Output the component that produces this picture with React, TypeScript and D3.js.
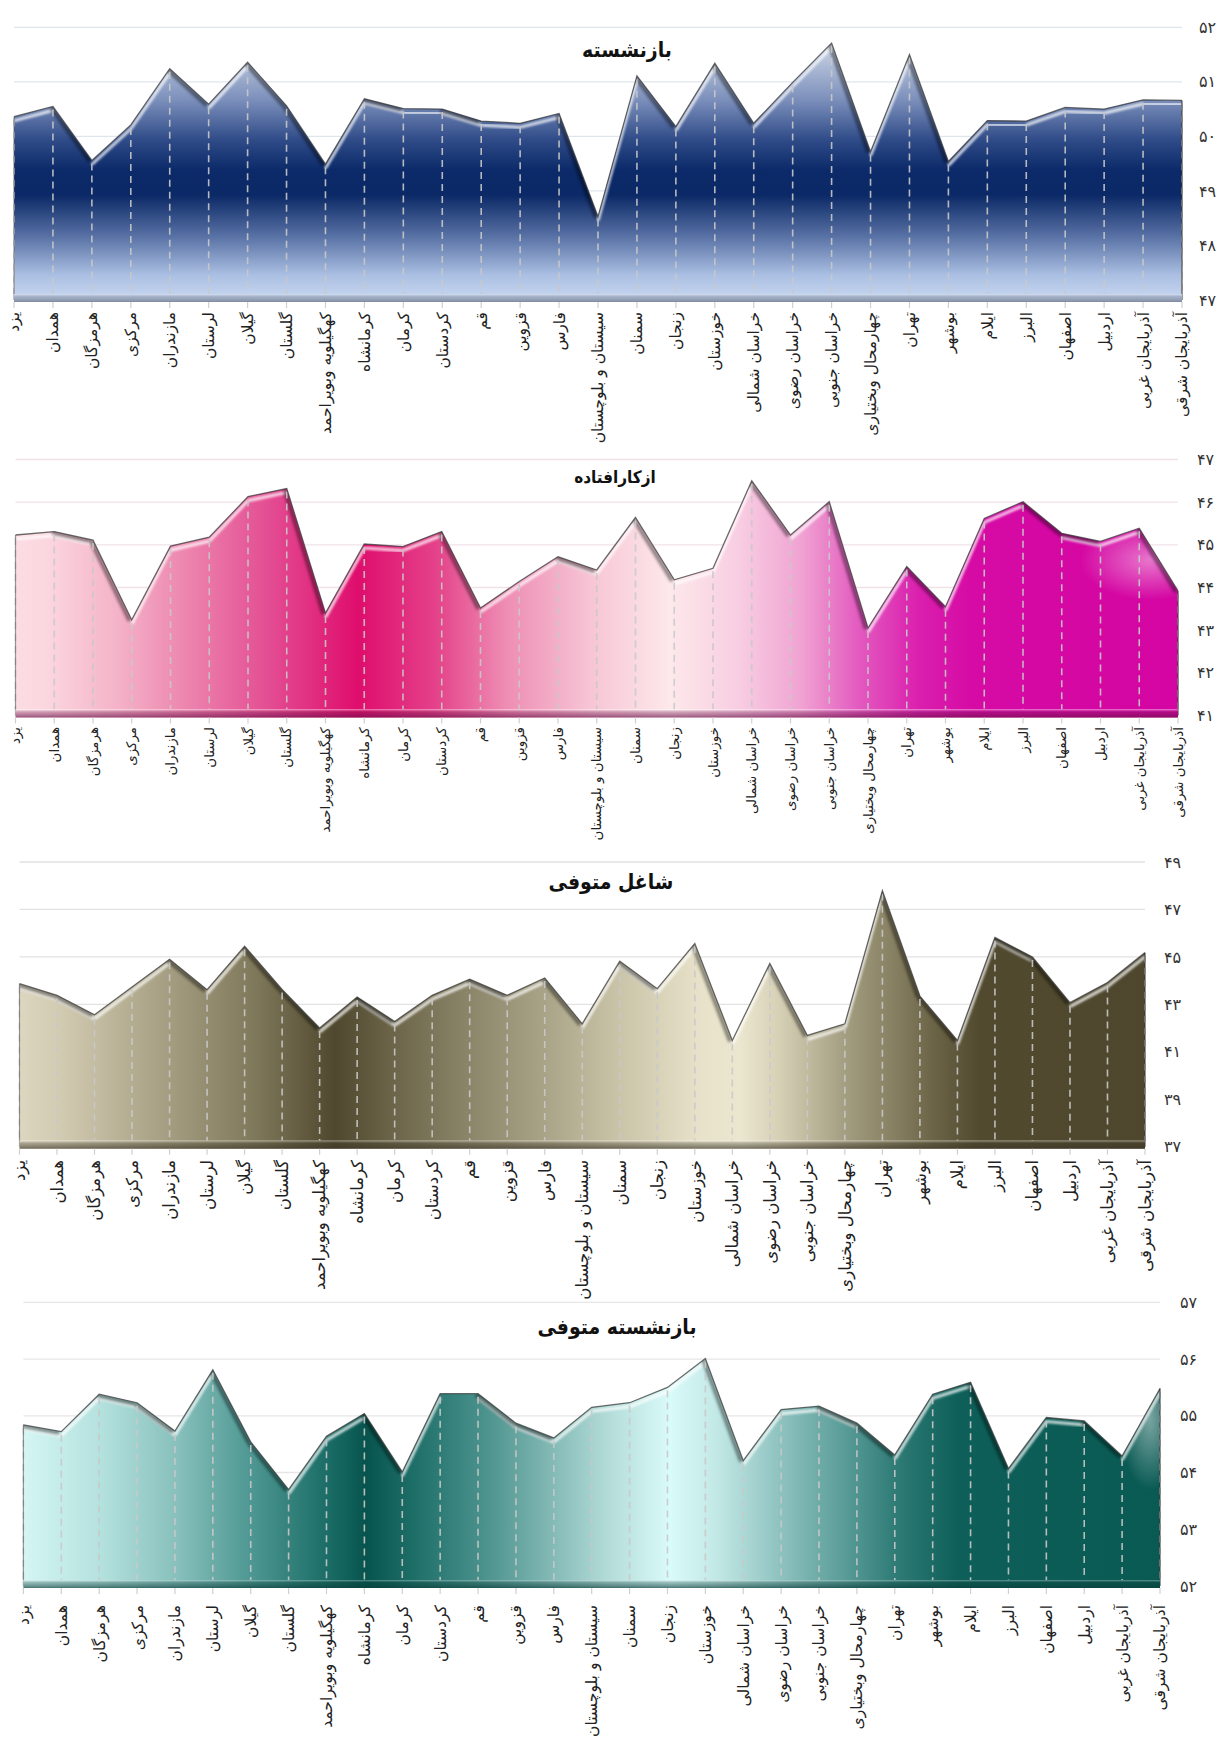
import React from 'react';
import * as d3 from 'd3';

const categories = [
  'یزد', 'همدان', 'هرمزگان', 'مرکزی', 'مازندران', 'لرستان', 'گیلان', 'گلستان',
  'کهگیلویه وبویراحمد', 'کرمانشاه', 'کرمان', 'کردستان', 'قم', 'قزوین', 'فارس',
  'سیستان و بلوچستان', 'سمنان', 'زنجان', 'خوزستان', 'خراسان شمالی', 'خراسان رضوی',
  'خراسان جنوبی', 'چهارمحال وبختیاری', 'تهران', 'بوشهر', 'ایلام', 'البرز', 'اصفهان',
  'اردبیل', 'آذربایجان غربی', 'آذربایجان شرقی',
];

const retiredValues = [
  50.36, 50.55, 49.56, 50.21, 51.24, 50.59, 51.36, 50.56, 49.49, 50.69, 50.51,
  50.5, 50.28, 50.24, 50.42, 48.53, 51.11, 50.18, 51.34, 50.24, 50.99, 51.71,
  49.72, 51.5, 49.54, 50.29, 50.28, 50.53, 50.5, 50.67, 50.66,
];
const disabledValues = [
  45.23, 45.31, 45.11, 43.24, 44.97, 45.18, 46.13, 46.32, 43.4, 45.02, 44.96,
  45.31, 43.52, 44.14, 44.72, 44.41, 45.64, 44.18, 44.45, 46.5, 45.23, 46.01,
  43.05, 44.49, 43.55, 45.62, 46.01, 45.27, 45.08, 45.39, 43.92,
];
const deceasedEmployedValues = [
  43.87, 43.38, 42.56, 43.73, 44.9, 43.62, 45.45, 43.63, 42.0, 43.31, 42.28,
  43.38, 44.06, 43.38, 44.11, 42.18, 44.82, 43.66, 45.56, 41.48, 44.72, 41.69,
  42.18, 47.79, 43.35, 41.48, 45.82, 45.0, 43.07, 43.92, 45.18,
];
const deceasedRetiredValues = [
  54.84, 54.72, 55.38, 55.23, 54.73, 55.81, 54.54, 53.7, 54.64, 55.04, 54.01,
  55.39, 55.39, 54.87, 54.61, 55.15, 55.23, 55.5, 56.01, 54.21, 55.11, 55.17,
  54.87, 54.31, 55.38, 55.59, 54.07, 54.97, 54.91, 54.29, 55.48,
];

const retiredTicks = [47, 48, 49, 50, 51, 52];
const disabledTicks = [41, 42, 43, 44, 45, 46, 47];
const deceasedEmployedTicks = [37, 39, 41, 43, 45, 47, 49];
const deceasedRetiredTicks = [52, 53, 54, 55, 56, 57];

const titles = ['بازنشسته', 'ازکارافتاده', 'شاغل متوفی', 'بازنشسته متوفی'];

const FONT = '"DejaVu Sans", "Noto Sans", sans-serif';
const TITLE_FONT = '"DejaVu Sans Condensed", "DejaVu Sans", sans-serif';

const toFa = (n: number) => String(n).replace(/\d/g, (d) => '۰۱۲۳۴۵۶۷۸۹'[+d]);

type Stop = [number, string];
type Cfg = {
  id: string;
  values: number[];
  ticks: number[];
  title: string;
  x0: number; x1: number; yTop: number; yBot: number;
  labelX: number; labelTop: number; labelSize: number;
  titleX: number; titleY: number; titleSize: number;
  grid: string;
  vertical: boolean;
  stops: Stop[];
  floorDark: string;
  glow?: [number, number, number, number];
};

const retiredStops: Stop[] = [
  [27, '#e6ebf5'], [60, '#b6c2da'], [100, '#7b8fbb'], [140, '#2f4b88'], [170, '#0c2a69'],
  [195, '#0b2966'], [235, '#566fa3'], [275, '#aabfe2'], [300, '#c9d8f1'],
];
const disabledStops: Stop[] = [
  [15, '#fcdde3'], [47, '#fbd6df'], [117, '#f4b3c8'], [195, '#ec7fab'], [273, '#e34a91'],
  [358, '#df0d6d'], [436, '#e4428a'], [506, '#ee8db3'], [592, '#f7c6d6'], [670, '#fde8ea'],
  [740, '#f8cde2'], [802, '#f0a2d2'], [857, '#e35cc0'], [919, '#da1fae'], [973, '#d60aa4'],
  [1178, '#d405a2'],
];
const deceasedEmployedStops: Stop[] = [
  [19, '#ddd6c0'], [60, '#d2cbb2'], [160, '#a8a185'], [257, '#7f7759'], [335, '#4f482e'],
  [389, '#6a6347'], [467, '#8a8468'], [545, '#a9a387'], [623, '#cbc5aa'], [701, '#e7e2c9'],
  [740, '#ebe6cf'], [779, '#d6d0b6'], [841, '#a6a084'], [896, '#857e60'], [935, '#6a6346'],
  [980, '#524a2f'], [1145, '#4e472d'],
];
const deceasedRetiredStops: Stop[] = [
  [23, '#d4f6f4'], [101, '#b4e1de'], [179, '#86bfbb'], [249, '#4f9893'], [327, '#1c6d67'],
  [366, '#07544e'], [413, '#1e6e68'], [483, '#4a918c'], [545, '#7db5b1'], [607, '#b2dbd8'],
  [670, '#d9fbf9'], [717, '#c2e8e5'], [779, '#8fc3c0'], [841, '#5c9e9a'], [896, '#2f7b76'],
  [958, '#0e5f59'], [1160, '#0a5a54'],
];

const configs: Cfg[] = [
  {
    id: 'c1', values: retiredValues, ticks: retiredTicks, title: titles[0],
    x0: 14, x1: 1182, yTop: 27.3, yBot: 300,
    labelX: 1199, labelTop: 312, labelSize: 15.5,
    titleX: 627, titleY: 57, titleSize: 21,
    grid: '#dfe5ef', vertical: true, stops: retiredStops, floorDark: '#5d6678',
  },
  {
    id: 'c2', values: disabledValues, ticks: disabledTicks, title: titles[1],
    x0: 15.5, x1: 1178, yTop: 459.5, yBot: 715.5,
    labelX: 1197, labelTop: 727, labelSize: 13.4,
    titleX: 615, titleY: 483, titleSize: 17,
    grid: '#f1e2e9', vertical: false, stops: disabledStops, floorDark: '#6a1048',
    glow: [1150, 560, 70, 40],
  },
  {
    id: 'c3', values: deceasedEmployedValues, ticks: deceasedEmployedTicks, title: titles[2],
    x0: 19.5, x1: 1145, yTop: 862, yBot: 1146.7,
    labelX: 1164, labelTop: 1160, labelSize: 16.5,
    titleX: 611, titleY: 889, titleSize: 21,
    grid: '#e2e2e2', vertical: false, stops: deceasedEmployedStops, floorDark: '#3a3526',
  },
  {
    id: 'c4', values: deceasedRetiredValues, ticks: deceasedRetiredTicks, title: titles[3],
    x0: 23.4, x1: 1160, yTop: 1302.3, yBot: 1586,
    labelX: 1180, labelTop: 1605, labelSize: 15.6,
    titleX: 617, titleY: 1334, titleSize: 21,
    grid: '#e6e6e6', vertical: false, stops: deceasedRetiredStops, floorDark: '#0a3c38',
    glow: [1150, 1420, 30, 70],
  },
];

function AreaChart3D({ cfg }: { cfg: Cfg }) {
  const { id, values, ticks, x0, x1, yTop, yBot } = cfg;
  const x = d3.scalePoint<string>().domain(categories).range([x0, x1]);
  const y = d3.scaleLinear().domain([ticks[0], ticks[ticks.length - 1]]).range([yBot, yTop]);
  const px = (i: number) => x(categories[i]) as number;
  const floorTop = yBot - 6;

  const area = d3.area<number>().x((_, i) => px(i)).y0(floorTop).y1((d) => y(d));
  const line = d3.line<number>().x((_, i) => px(i)).y((d) => y(d));
  const areaPath = area(values) || '';
  const linePath = line(values) || '';

  const g0 = cfg.stops[0][0];
  const g1 = cfg.stops[cfg.stops.length - 1][0];
  const span = g1 - g0;

  const segs = values.slice(0, -1).map((v, i) => ({
    xa: px(i), ya: y(v), xb: px(i + 1), yb: y(values[i + 1]),
  }));

  return (
    <g>
      <defs>
        <linearGradient
          id={`${id}-fill`}
          gradientUnits="userSpaceOnUse"
          x1={cfg.vertical ? 0 : g0}
          x2={cfg.vertical ? 0 : g1}
          y1={cfg.vertical ? g0 : 0}
          y2={cfg.vertical ? g1 : 0}
        >
          {cfg.stops.map(([p, c], k) => (
            <stop key={k} offset={(p - g0) / span} stopColor={c} />
          ))}
        </linearGradient>
        <linearGradient id={`${id}-floor`} x1="0" x2="0" y1="0" y2="1">
          <stop offset="0" stopColor="#ffffff" stopOpacity="0.35" />
          <stop offset="0.3" stopColor={cfg.floorDark} stopOpacity="0.3" />
          <stop offset="0.8" stopColor={cfg.floorDark} stopOpacity="0.55" />
          <stop offset="1" stopColor={cfg.floorDark} stopOpacity="0.7" />
        </linearGradient>
        <radialGradient id={`${id}-glow`}>
          <stop offset="0" stopColor="#ffffff" stopOpacity="0.45" />
          <stop offset="1" stopColor="#ffffff" stopOpacity="0" />
        </radialGradient>
        <clipPath id={`${id}-clip`}>
          <path d={areaPath} />
        </clipPath>
        <filter id={`${id}-blur`} x="-5%" y="-50%" width="110%" height="200%">
          <feGaussianBlur stdDeviation="1" />
        </filter>
        <filter id={`${id}-shadow`} x="-5%" y="-50%" width="110%" height="200%">
          <feGaussianBlur stdDeviation="1.6" />
        </filter>
      </defs>

      {ticks.map((t) => (
        <line key={`g${t}`} x1={x0} x2={x1} y1={y(t)} y2={y(t)} stroke={cfg.grid} strokeWidth={1.3} />
      ))}

      <path d={areaPath} fill={`url(#${id}-fill)`} />

      <g clipPath={`url(#${id}-clip)`}>
        {cfg.glow && (
          <ellipse cx={cfg.glow[0]} cy={cfg.glow[1]} rx={cfg.glow[2]} ry={cfg.glow[3]}
            fill={`url(#${id}-glow)`} />
        )}
        {segs.map((s, i) => {
          const slope = (s.yb - s.ya) / (s.xb - s.xa);
          if (slope > 0.8) return null;
          return (
            <line key={`h${i}`} x1={s.xa} y1={s.ya + 4} x2={s.xb} y2={s.yb + 4}
              stroke="#ffffff" strokeOpacity={0.75} strokeWidth={3.2} filter={`url(#${id}-blur)`} />
          );
        })}
        {segs.map((s, i) => {
          const slope = (s.yb - s.ya) / (s.xb - s.xa);
          if (slope <= 0.15) return null;
          return (
            <line key={`s${i}`} x1={s.xa - 2} y1={s.ya + 1} x2={s.xb - 2} y2={s.yb + 1}
              stroke="#000000" strokeOpacity={0.45} strokeWidth={4} filter={`url(#${id}-shadow)`} />
          );
        })}
        <line x1={x1} x2={x1} y1={yTop} y2={yBot} stroke="#000" strokeOpacity={0.45} strokeWidth={4}
          filter={`url(#${id}-shadow)`} />
      </g>

      {values.map((v, i) => (
        <line key={`d${i}`} x1={px(i)} x2={px(i)} y1={y(v) + 3} y2={floorTop}
          stroke="#c9c9c9" strokeOpacity={0.9} strokeWidth={1.6} strokeDasharray="7,5" />
      ))}

      <path d={linePath} fill="none" stroke="#3a3a3a" strokeOpacity={0.75} strokeWidth={1.3} />
      <line x1={x0} x2={x0} y1={y(values[0])} y2={yBot} stroke="#555" strokeOpacity={0.6} strokeWidth={1.2} />
      <line x1={x1} x2={x1} y1={y(values[values.length - 1])} y2={yBot} stroke="#333" strokeOpacity={0.7} strokeWidth={1.4} />

      <rect x={x0} y={floorTop} width={x1 - x0} height={8} fill={`url(#${id}-fill)`} />
      <rect x={x0} y={floorTop} width={x1 - x0} height={8} fill={`url(#${id}-floor)`} />

      {values.map((_, i) => (
        <line key={`t${i}`} x1={px(i)} x2={px(i)} y1={yBot + 2} y2={yBot + 8} stroke="#d0d0d0" strokeWidth={1.2} />
      ))}

      {ticks.map((t) => (
        <text key={`yl${t}`} x={cfg.labelX} y={y(t)} dy="0.35em" fontFamily={FONT} fontSize={16}
          fill="#333">{toFa(t)}</text>
      ))}

      {categories.map((c, i) => (
        <text key={`xl${i}`} transform={`translate(${px(i)},${cfg.labelTop}) rotate(-90)`}
          textAnchor="end" dy="0.35em" fontFamily={FONT} fontSize={cfg.labelSize} fill="#222">{c}</text>
      ))}

      <text x={cfg.titleX} y={cfg.titleY} textAnchor="middle" fontFamily={TITLE_FONT}
        fontWeight="bold" fontSize={cfg.titleSize} fill="#111">{cfg.title}</text>
    </g>
  );
}

export default function App() {
  return (
    <svg width={1221} height={1738} viewBox="0 0 1221 1738"
      style={{ position: 'absolute', left: 0, top: 0, background: '#fff' }}>
      <rect width={1221} height={1738} fill="#fff" />
      {configs.map((cfg) => (
        <AreaChart3D key={cfg.id} cfg={cfg} />
      ))}
    </svg>
  );
}
